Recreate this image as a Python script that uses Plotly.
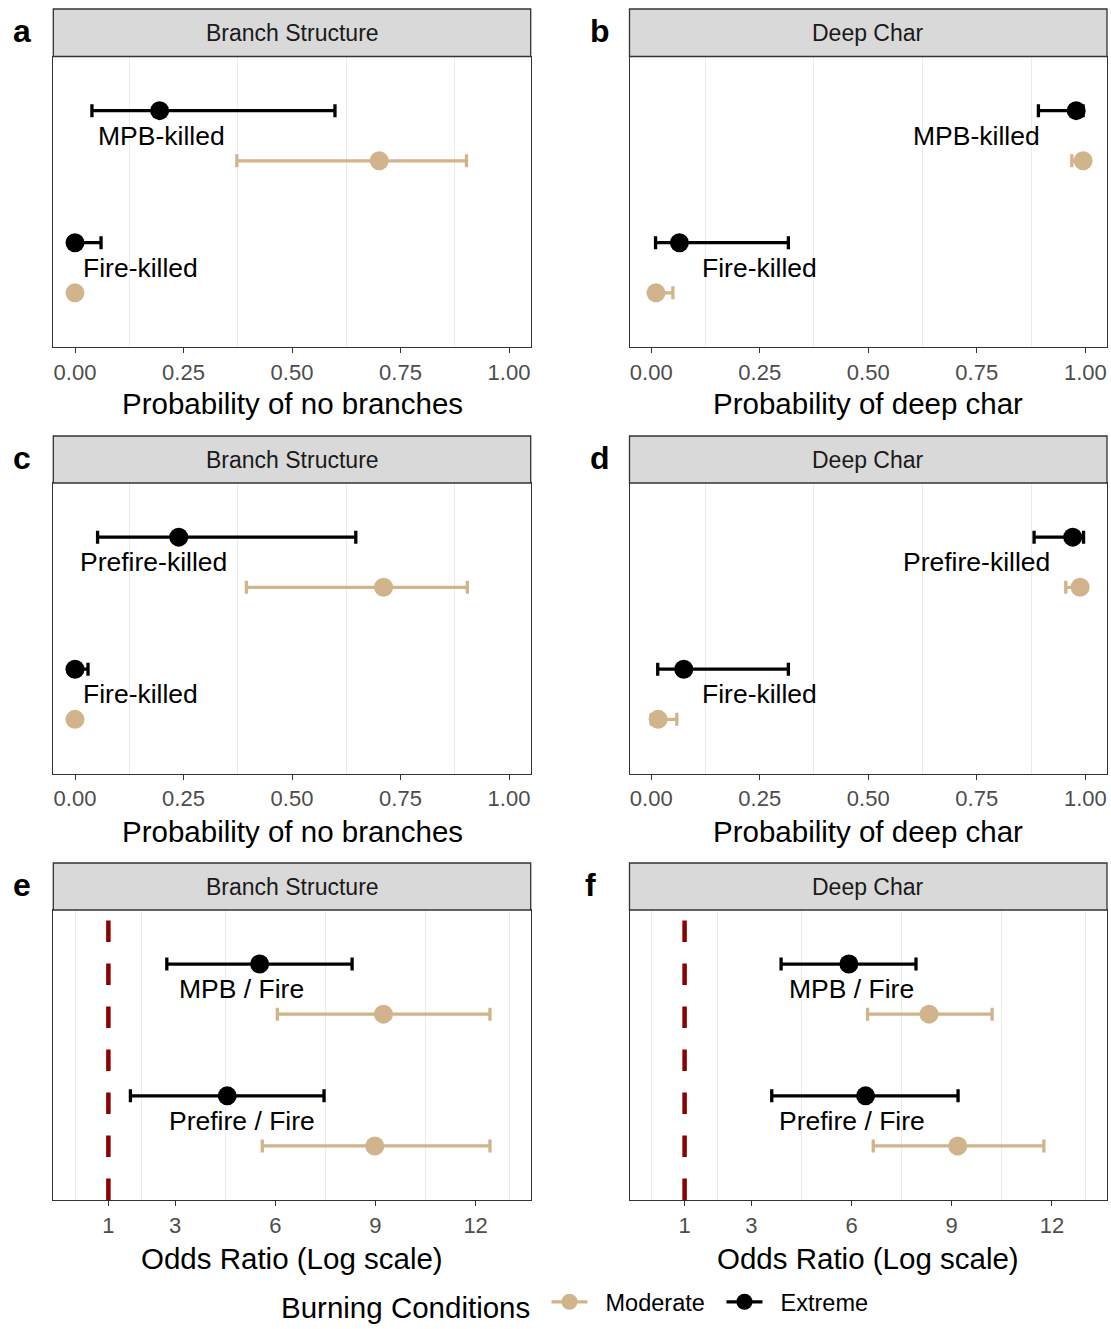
import plotly.graph_objects as go

# ---------------- data ----------------
cats_ab = ["MPB-killed", "Fire-killed"]
cats_cd = ["Prefire-killed", "Fire-killed"]
cats_ef = ["MPB / Fire", "Prefire / Fire"]

strip_titles = ["Branch Structure", "Deep Char", "Branch Structure", "Deep Char", "Branch Structure", "Deep Char"]
axis_titles = ["Probability of no branches", "Probability of deep char",
               "Probability of no branches", "Probability of deep char",
               "Odds Ratio (Log scale)", "Odds Ratio (Log scale)"]
panel_letters = ["a", "b", "c", "d", "e", "f"]

prob_ticks = [0, 0.25, 0.5, 0.75, 1.0]
prob_ticktext = ["0.00", "0.25", "0.50", "0.75", "1.00"]
odds_ticks = [1, 3, 6, 9, 12]
odds_ticktext = ["1", "3", "6", "9", "12"]

legend_title = "Burning Conditions"
conditions = ["Moderate", "Extreme"]

# panel a
a_ext_est = [0.195, 0.0]
a_ext_lo = [0.039, 0.0]
a_ext_hi = [0.599, 0.060]
a_mod_est = [0.701, 0.0]
a_mod_lo = [0.373, 0.0]
a_mod_hi = [0.902, 0.004]
a_label_x = [0.20, 0.15]
# panel b
b_ext_est = [0.979, 0.065]
b_ext_lo = [0.892, 0.010]
b_ext_hi = [0.995, 0.316]
b_mod_est = [0.995, 0.011]
b_mod_lo = [0.969, 0.0]
b_mod_hi = [1.0, 0.050]
b_label_x = [0.75, 0.25]
# panel c
c_ext_est = [0.239, 0.0]
c_ext_lo = [0.052, 0.0]
c_ext_hi = [0.647, 0.030]
c_mod_est = [0.711, 0.0]
c_mod_lo = [0.395, 0.0]
c_mod_hi = [0.904, 0.003]
c_label_x = [0.18, 0.15]
# panel d
d_ext_est = [0.971, 0.075]
d_ext_lo = [0.882, 0.015]
d_ext_hi = [0.996, 0.316]
d_mod_est = [0.988, 0.016]
d_mod_lo = [0.955, 0.0]
d_mod_hi = [1.0, 0.059]
d_label_x = [0.75, 0.25]
# panel e
e_ext_est = [5.53, 4.56]
e_ext_lo = [2.75, 1.66]
e_ext_hi = [8.30, 7.46]
e_mod_est = [9.24, 8.98]
e_mod_lo = [6.06, 5.61]
e_mod_hi = [12.43, 12.43]
e_label_x = [5.0, 5.0]
# panel f
f_ext_est = [5.92, 6.42]
f_ext_lo = [3.89, 3.61]
f_ext_hi = [7.93, 9.19]
f_mod_est = [8.32, 9.18]
f_mod_lo = [6.48, 6.65]
f_mod_hi = [10.21, 11.76]
f_label_x = [6.0, 6.0]

panels = [
    (cats_ab, a_ext_est, a_ext_lo, a_ext_hi, a_mod_est, a_mod_lo, a_mod_hi, a_label_x),
    (cats_ab, b_ext_est, b_ext_lo, b_ext_hi, b_mod_est, b_mod_lo, b_mod_hi, b_label_x),
    (cats_cd, c_ext_est, c_ext_lo, c_ext_hi, c_mod_est, c_mod_lo, c_mod_hi, c_label_x),
    (cats_cd, d_ext_est, d_ext_lo, d_ext_hi, d_mod_est, d_mod_lo, d_mod_hi, d_label_x),
    (cats_ef, e_ext_est, e_ext_lo, e_ext_hi, e_mod_est, e_mod_lo, e_mod_hi, e_label_x),
    (cats_ef, f_ext_est, f_ext_lo, f_ext_hi, f_mod_est, f_mod_lo, f_mod_hi, f_label_x),
]

# ---------------- style / layout ----------------
W, H = 1111, 1329
FONT = "Liberation Sans, Arial, Helvetica, sans-serif"
TAN = "#D2B48C"
BLACK = "#000000"
BORDER = "#333333"
GRID = "#EBEBEB"
NBSP = "\u00a0"

col_x = [(53.3, 530.7), (629.5, 1107.0)]
row_strip = [(9.0, 56.5), (436.0, 483.0), (863.0, 910.0)]
row_panel = [(56.5, 347.0), (483.0, 773.5), (910.0, 1200.0)]
title_y = [404, 831, 1258]

def px(x):
    return x / W

def py(y):
    return 1 - y / H

DODGE = 0.19

fig = go.Figure()
annotations = []
shapes = []

for i, (cats, ee, el, eh, me, ml, mh, lx) in enumerate(panels):
    r, c = divmod(i, 2)
    n = i + 1
    xa = "x" if n == 1 else f"x{n}"
    ya = "y" if n == 1 else f"y{n}"
    groups = [2, 1]

    for name, est, lo, hi, col, off in [("Moderate", me, ml, mh, TAN, -DODGE),
                                         ("Extreme", ee, el, eh, BLACK, DODGE)]:
        fig.add_trace(go.Scatter(
            x=est, y=[g + off for g in groups], mode="markers",
            marker=dict(color=col, size=19),
            error_x=dict(type="data", symmetric=False,
                         array=[h - e for h, e in zip(hi, est)],
                         arrayminus=[e - l for e, l in zip(est, lo)],
                         color=col, thickness=3.3, width=6.5),
            xaxis=xa, yaxis=ya, showlegend=False, name=name,
        ))

    for cat, g, x in zip(cats, groups, lx):
        annotations.append(dict(x=x, y=g, xref=xa, yref=ya, text=cat, showarrow=False,
                                font=dict(family=FONT, size=26.5, color="black"),
                                xanchor="center", yanchor="middle"))

    x0, x1 = col_x[c]
    p0, p1 = row_panel[r]
    if r < 2:
        xr = [-0.05, 1.05]
        tv, tt = prob_ticks, prob_ticktext
        minor_vals = [0.125, 0.375, 0.625, 0.875]
    else:
        xr = [-0.65, 13.65]
        tv, tt = odds_ticks, odds_ticktext
        minor_vals = [0, 2, 4.5, 7.5, 10.5, 13]

    fig.layout[("xaxis" if n == 1 else f"xaxis{n}")] = dict(
        domain=[px(x0), px(x1)], anchor=ya, range=xr,
        tickvals=tv, ticktext=tt, ticks="outside", ticklen=5, tickwidth=1.3,
        tickcolor=BORDER, tickfont=dict(family=FONT, size=22, color="#4D4D4D"),
        showgrid=False, zeroline=False, showline=True, mirror=True,
        linecolor=BORDER, linewidth=1.3,
        minor=dict(tickvals=minor_vals, showgrid=True, gridcolor=GRID, gridwidth=1, ticks=""),
    )
    fig.layout[("yaxis" if n == 1 else f"yaxis{n}")] = dict(
        domain=[py(p1), py(p0)], anchor=xa, range=[0.4, 2.6],
        showticklabels=False, ticks="", showgrid=False, zeroline=False,
        showline=True, mirror=True, linecolor=BORDER, linewidth=1.3,
    )

    # strip
    s0, s1 = row_strip[r]
    shapes.append(dict(type="rect", xref="paper", yref="paper",
                       x0=px(x0), x1=px(x1), y0=py(s1), y1=py(s0),
                       fillcolor="#D9D9D9", line=dict(color=BORDER, width=1.3), layer="above"))
    annotations.append(dict(x=px((x0 + x1) / 2), y=py((s0 + s1) / 2), xref="paper", yref="paper",
                            text=strip_titles[i], showarrow=False,
                            font=dict(family=FONT, size=23, color="#1A1A1A"),
                            xanchor="center", yanchor="middle"))
    # axis title
    annotations.append(dict(x=px((x0 + x1) / 2), y=py(title_y[r]), xref="paper", yref="paper",
                            text=axis_titles[i], showarrow=False,
                            font=dict(family=FONT, size=29.5, color="black"),
                            xanchor="center", yanchor="middle"))
    # panel letter
    letter_x = [21.5, 600, 21.5, 600, 21.5, 590][i]
    annotations.append(dict(x=px(letter_x), y=py(s0 + 22), xref="paper", yref="paper",
                            text="<b>" + panel_letters[i] + "</b>", showarrow=False,
                            font=dict(family=FONT, size=32, color="black"),
                            xanchor="center", yanchor="middle"))

    if r == 2:
        shapes.append(dict(type="line", xref=xa, yref=f"{ya} domain",
                           x0=1, x1=1, y0=0, y1=1,
                           line=dict(color="#8B0000", width=4.5, dash="21.5px,21.5px")))

# legend traces
for name, col in zip(conditions, [TAN, BLACK]):
    fig.add_trace(go.Scatter(x=[None], y=[None], mode="lines+markers", name=NBSP * 2 + name,
                             line=dict(color=col, width=3.3), marker=dict(color=col, size=16),
                             xaxis="x", yaxis="y", showlegend=True))

fig.update_layout(
    width=W, height=H,
    margin=dict(l=0, r=0, t=0, b=0),
    paper_bgcolor="white", plot_bgcolor="white",
    annotations=annotations, shapes=shapes,
    showlegend=True,
    legend=dict(orientation="h", x=px(279), xanchor="left", y=0, yanchor="bottom",
                title=dict(text=legend_title + NBSP, side="left",
                           font=dict(family=FONT, size=29.5, color="black")),
                font=dict(family=FONT, size=23.5, color="black"),
                bgcolor="rgba(0,0,0,0)", itemwidth=36, entrywidth=124,
                entrywidthmode="pixels", tracegroupgap=0),
)

fig.write_html("out.html")
